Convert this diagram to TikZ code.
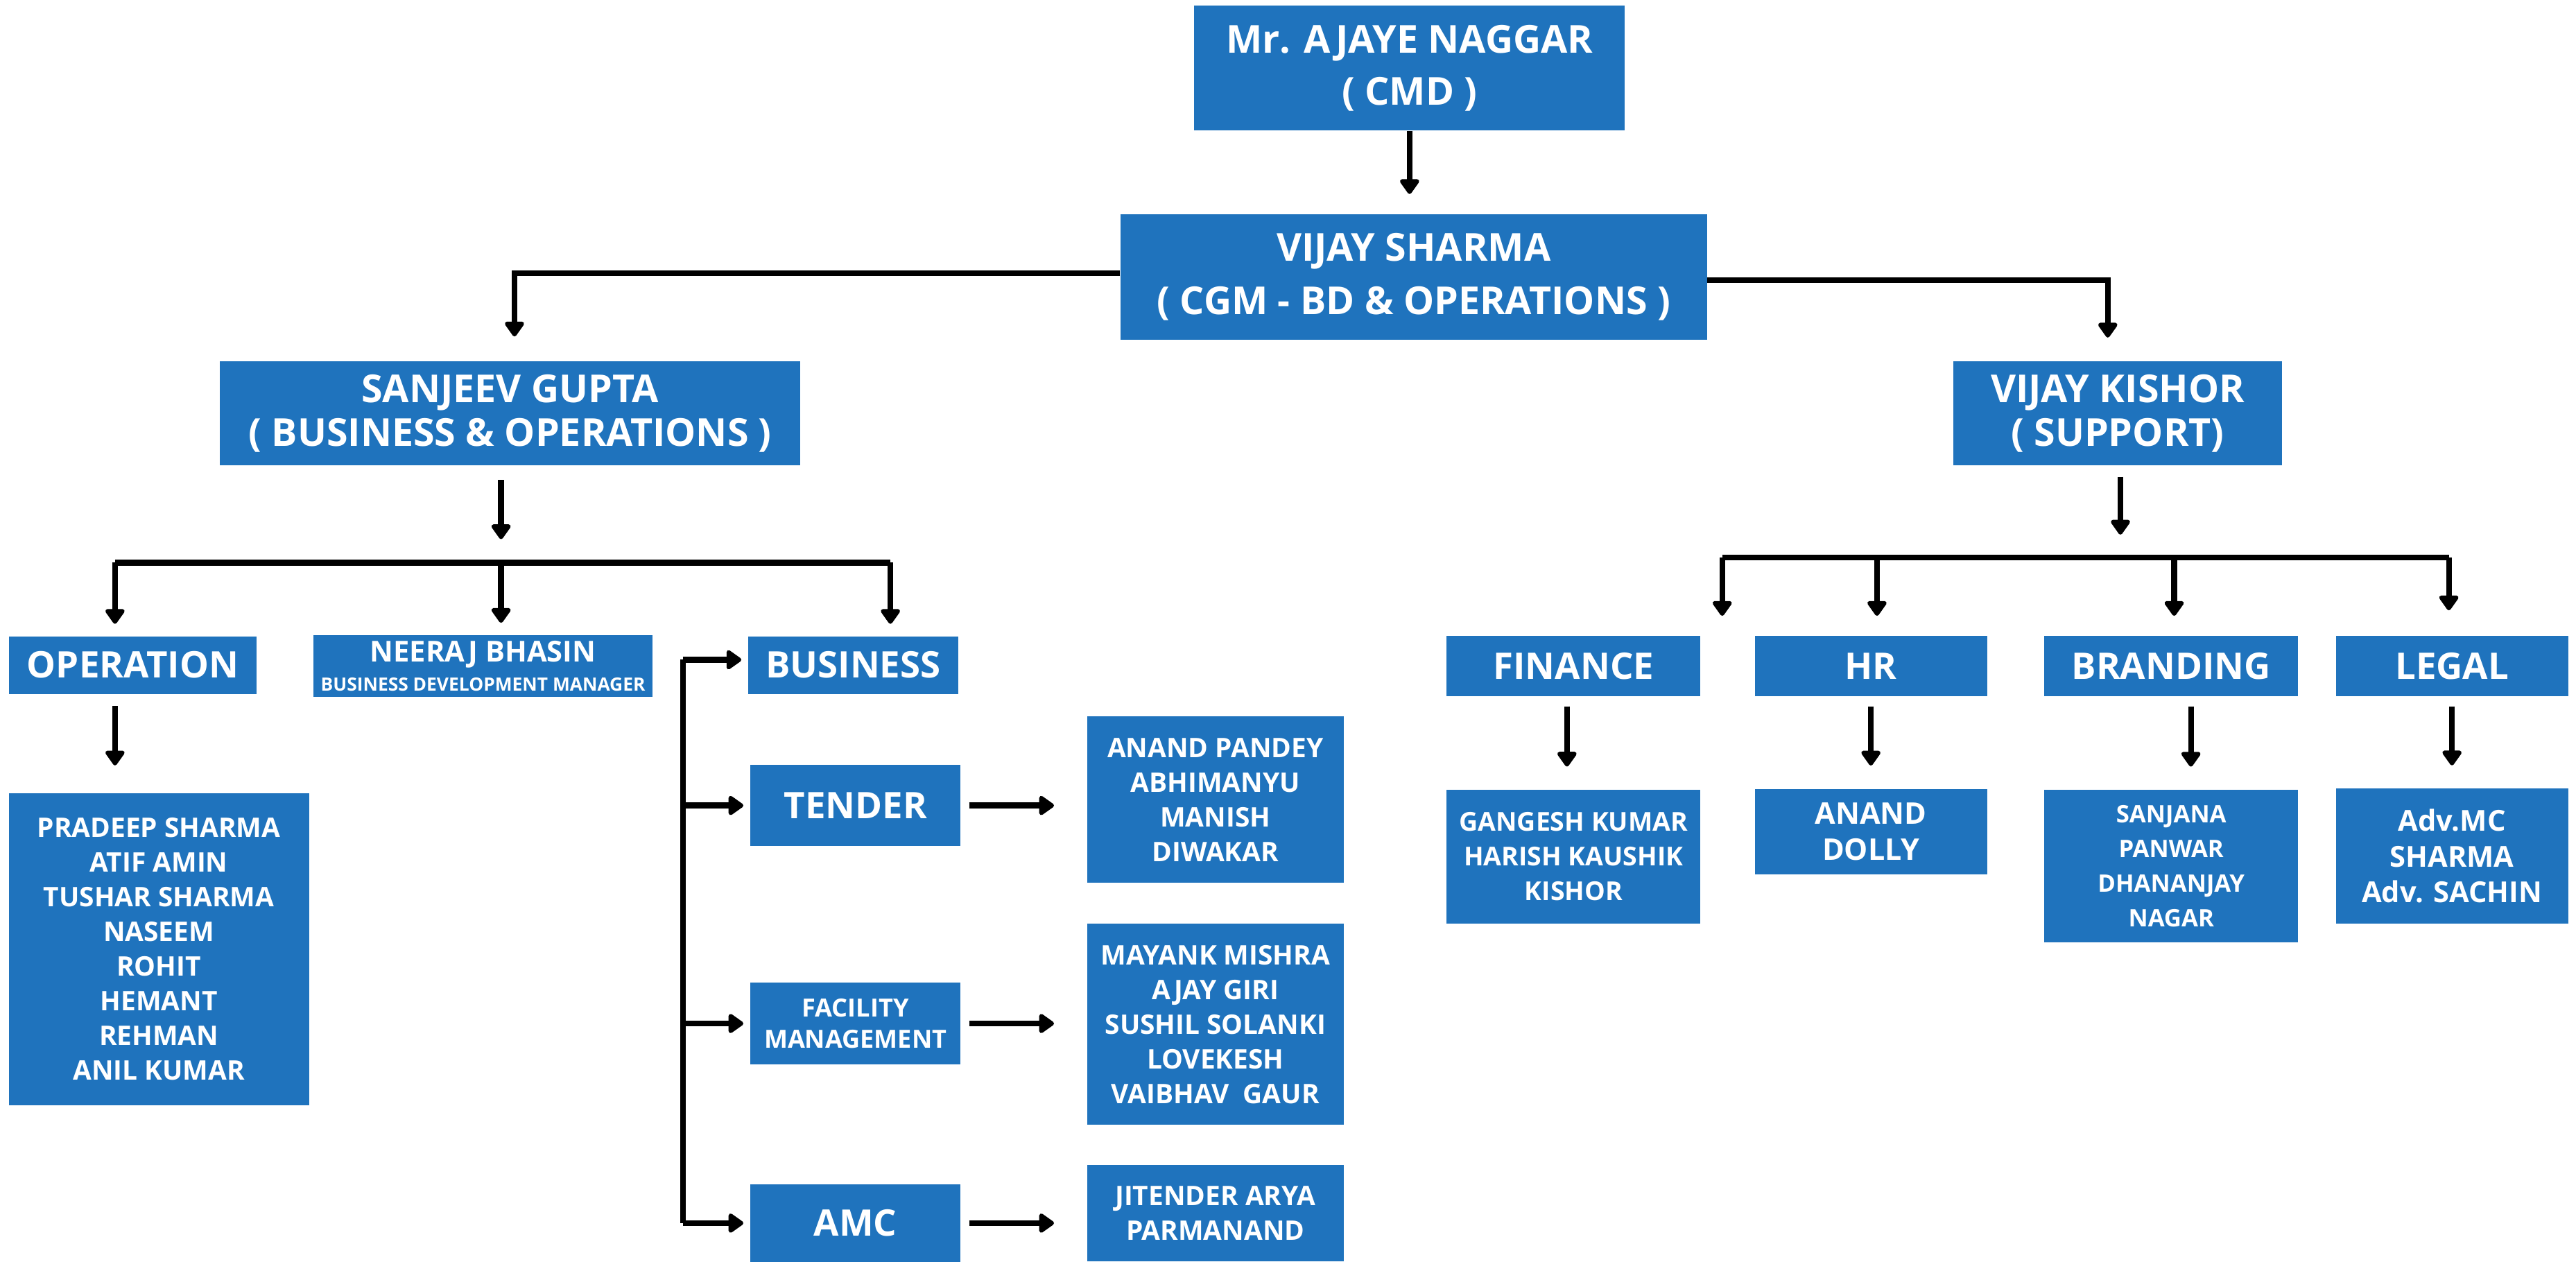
\documentclass[tikz,border=0pt]{standalone}
\usepackage{fontspec}
\setmainfont{Open Sans}
\usepackage{xcolor}
\usepackage{tikz}
\usetikzlibrary{positioning,arrows.meta}
\definecolor{orgblue}{RGB}{31,115,189}

\begin{document}
\begin{tikzpicture}[
  x=0.03cm, y=-0.03cm,
  box/.style={fill=orgblue, text=white, inner sep=0pt, align=center, font=\bfseries},
  head/.style={box, font=\bfseries\fontsize{20}{27}\selectfont},
  dept/.style={box, font=\bfseries\fontsize{19}{23}\selectfont},
  staff/.style={box, font=\bfseries\fontsize{14}{18}\selectfont},
  conn/.style={line width=3pt},
  arr/.style={conn, -{Triangle[length=0.3cm, width=0.4cm, round]}}
]
\useasboundingbox (0,0) rectangle (1568,768);

% Top management
\node[head, minimum width=7.86cm, minimum height=2.28cm] (cmd) at (858,41.5) {Mr. AJAYE NAGGAR\\( CMD )};
\node[head, minimum width=10.71cm, minimum height=2.29cm, font=\bfseries\fontsize{20}{28}\selectfont] (cgm) at (860.5,168.5) {VIJAY SHARMA\\( CGM - BD \& OPERATIONS )};
\node[head, minimum width=10.59cm, minimum height=1.90cm, font=\bfseries\fontsize{20}{23}\selectfont] (sg) at (310.5,251.7) {SANJEEV GUPTA\\( BUSINESS \& OPERATIONS )};
\node[head, minimum width=6.00cm, minimum height=1.90cm, font=\bfseries\fontsize{20}{23}\selectfont] (vk) at (1289,251.7) {VIJAY KISHOR\\( SUPPORT)};

% Business & operations side
\node[dept, minimum width=4.52cm, minimum height=1.05cm] (op) at (80.8,404.8) {OPERATION};
\node[box, minimum width=6.20cm, minimum height=1.13cm] (nb) at (294,405.5) {{\fontsize{15}{15}\selectfont NEERAJ BHASIN\hspace{0.5cm}}\\[3pt]{\fontsize{9.5}{11}\selectfont BUSINESS DEVELOPMENT MANAGER}};
\node[dept, minimum width=3.83cm, minimum height=1.05cm] (bus) at (519.3,404.8) {BUSINESS};
\node[staff, minimum width=5.48cm, minimum height=5.70cm] (opl) at (96.7,577.8) {PRADEEP SHARMA\\ATIF AMIN\\TUSHAR SHARMA\\NASEEM\\ROHIT\\HEMANT\\REHMAN\\ANIL KUMAR};

\node[dept, minimum width=3.84cm, minimum height=1.49cm] (tender) at (520.7,490.3) {TENDER};
\node[box, minimum width=3.84cm, minimum height=1.50cm, font=\bfseries\fontsize{13}{16.5}\selectfont] (fm) at (520.7,623) {FACILITY\\MANAGEMENT};
\node[dept, minimum width=3.84cm, minimum height=1.41cm] (amc) at (520.7,744.5) {AMC};

\node[staff, minimum width=4.68cm, minimum height=3.04cm] (tl) at (739.8,486.8) {ANAND PANDEY\\ABHIMANYU\\MANISH\\DIWAKAR};
\node[staff, minimum width=4.68cm, minimum height=3.67cm] (fl) at (739.8,623.5) {MAYANK MISHRA\\AJAY GIRI\\SUSHIL SOLANKI\\LOVEKESH\\VAIBHAV\ \ GAUR};
\node[staff, minimum width=4.68cm, minimum height=1.76cm] (al) at (739.8,738.6) {JITENDER ARYA\\PARMANAND};

% Support side
\node[dept, minimum width=4.63cm, minimum height=1.10cm] (fin) at (957.8,405.4) {FINANCE};
\node[dept, minimum width=4.24cm, minimum height=1.10cm] (hr) at (1138.8,405.4) {HR};
\node[dept, minimum width=4.63cm, minimum height=1.10cm] (brand) at (1321.6,405.4) {BRANDING};
\node[dept, minimum width=4.24cm, minimum height=1.10cm] (legal) at (1492.5,405.4) {LEGAL};

\node[staff, minimum width=4.63cm, minimum height=2.44cm, font=\bfseries\fontsize{13.5}{18}\selectfont] (finl) at (957.8,521.5) {GANGESH KUMAR\\ HARISH KAUSHIK\\KISHOR};
\node[staff, minimum width=4.24cm, minimum height=1.56cm, font=\bfseries\fontsize{15.5}{19}\selectfont] (hrl) at (1138.8,506.2) {ANAND\\DOLLY};
\node[staff, minimum width=4.63cm, minimum height=2.78cm, font=\bfseries\fontsize{12.5}{18}\selectfont] (brl) at (1321.6,527.2) {SANJANA\\PANWAR\\DHANANJAY\\NAGAR};
\node[staff, minimum width=4.24cm, minimum height=2.46cm, font=\bfseries\fontsize{15}{18.6}\selectfont] (lgl) at (1492.5,521.1) {Adv.MC\\SHARMA\\Adv. SACHIN};

% Bus points
\coordinate (sgbus) at (305,342.5);
\coordinate (lb1) at (70,342.5);
\coordinate (lb3) at (542,342.5);
\coordinate (brtop) at (415.6,401.6);
\coordinate (vkbus) at (1290.7,339.4);
\coordinate (rb1) at (1048.3,339.4);
\coordinate (rb2) at (1142.5,339.4);
\coordinate (rb3) at (1323.4,339.4);
\coordinate (rb4) at (1490.6,339.4);

% Upper arrows
\draw[arr, shorten >=0.36cm] (cmd.south) -- (cmd.south |- cgm.north);
\draw[arr, shorten >=0.45cm] ([yshift=0.07cm]cgm.west) -| ([xshift=0.08cm]sg.north);
\draw[arr, shorten >=0.43cm] ([yshift=-0.06cm]cgm.east) -| ([xshift=-0.18cm]vk.north);

% Left tree
\draw[arr, shorten <=0.26cm, shorten >=0.43cm] (sg.south -| sgbus) -- (sgbus);
\draw[conn] (lb1) -- (lb3);
\draw[arr, shorten >=0.22cm] (lb1) -- (lb1 |- op.north);
\draw[arr, shorten >=0.22cm] (sgbus) -- (sgbus |- nb.north);
\draw[arr, shorten >=0.22cm] (lb3) -- (lb3 |- bus.north);
\draw[arr, shorten <=0.22cm, shorten >=0.5cm] (op.south -| lb1) -- (lb1 |- opl.north);

% Business bracket
\draw[conn] (brtop) -- (brtop |- amc.west);
\draw[arr, shorten >=0.12cm] (brtop) -- (bus.west |- brtop);
\foreach \n in {tender,fm,amc}
  \draw[arr, shorten >=0.12cm] (brtop |- \n.west) -- (\n.west);
\foreach \a/\b in {tender/tl, fm/fl, amc/al}
  \draw[arr, shorten <=0.15cm, shorten >=0.6cm] (\a.east) -- (\a.east -| \b.west);

% Right tree
\draw[arr, shorten <=0.2cm, shorten >=0.42cm] (vk.south -| vkbus) -- (vkbus);
\draw[conn] (rb1) -- (rb4);
\draw[arr, shorten >=0.36cm] (rb1) -- (rb1 |- fin.north);
\draw[arr, shorten >=0.36cm] (rb2) -- (rb2 |- hr.north);
\draw[arr, shorten >=0.36cm] (rb3) -- (rb3 |- brand.north);
\draw[arr, shorten >=0.46cm] (rb4) -- (rb4 |- legal.north);
\foreach \a/\b/\dx in {fin/finl/-4, hr/hrl/0, brand/brl/12, legal/lgl/0}
  \draw[arr, shorten <=0.18cm, shorten >=0.42cm] ([xshift=\dx*0.03cm]\a.south) -- ([xshift=\dx*0.03cm]\a.south |- \b.north);

\end{tikzpicture}
\end{document}
